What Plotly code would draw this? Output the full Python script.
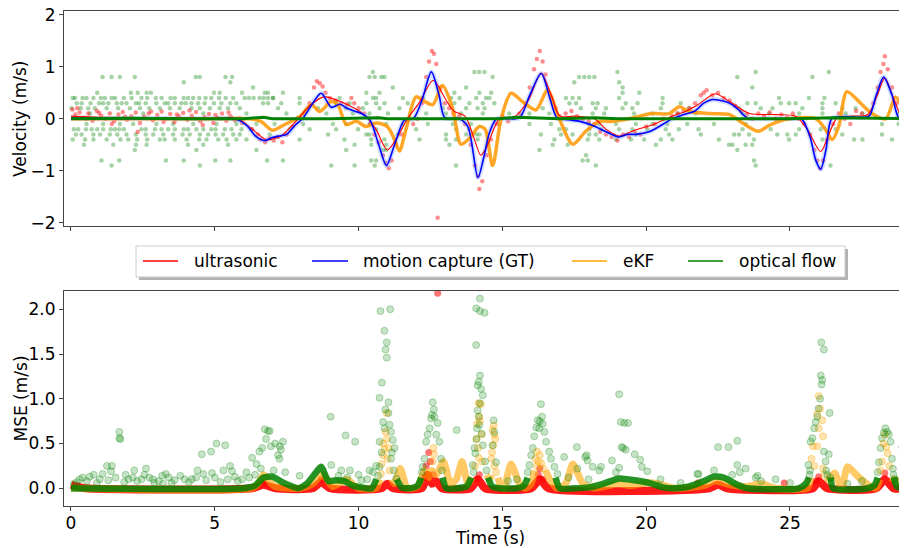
import plotly.graph_objects as go

FONT = "DejaVu Sans"

# ---------------- data ----------------
# motion capture (ground truth) velocity, knots (time s, m/s)
GT_T = [0, 0.5, 1, 2, 3, 4, 5, 5.7, 6.1, 6.45, 6.75, 7.0, 7.25, 7.5, 7.8, 8.05, 8.35, 8.7, 9.05, 9.35,
        9.6, 9.85, 10.1, 10.4, 10.7, 10.97, 11.25, 11.6, 11.9, 12.2, 12.53, 12.8, 13.0, 13.5, 13.8, 14.15,
        14.35, 14.55, 14.8, 15.2, 15.6, 15.95, 16.35, 16.65, 16.9, 17.3, 17.7, 18.1, 18.5, 18.8, 19.06,
        19.35, 19.65, 20.1, 20.6, 20.9, 21.3, 21.7, 22.0, 22.3, 22.6, 22.9, 23.2, 23.5, 24.0, 25.0, 25.4,
        25.7, 25.9, 26.07, 26.25, 26.45, 26.8, 27.4, 27.75, 28.0, 28.26, 28.55, 28.8, 29.1, 29.4]
GT_V = [0.02, 0.01, 0, 0, 0, 0, 0, 0, -0.12, -0.35, -0.42, -0.36, -0.33, -0.3, -0.12, 0.0, 0.25, 0.49, 0.22, 0.28,
        0.2, 0.15, 0.1, -0.03, -0.5, -0.9, -0.5, -0.02, 0.0, 0.35, 0.9, 0.45, 0.02, 0.0, -0.15, -1.13,
        -0.75, -0.27, 0.0, 0.0, 0.02, 0.45, 0.87, 0.4, 0.02, -0.02, -0.05, -0.12, -0.22, -0.3, -0.35,
        -0.3, -0.3, -0.25, -0.1, 0.0, 0.08, 0.15, 0.3, 0.37, 0.35, 0.3, 0.18, 0.02, 0.0, 0.0, 0.0,
        -0.35, -0.8, -0.97, -0.6, 0.0, 0.04, 0.03, 0.05, 0.45, 0.8, 0.45, 0.0, 0.0, 0.0]

# ultrasonic velocity (smoothed line)
US_T = [0, 1, 3, 5, 5.8, 6.3, 6.8, 7.3, 7.9, 8.3, 8.8, 9.5, 10.15, 10.6, 11.0, 11.35, 11.7, 12.1, 12.6,
        13.0, 13.3, 13.7, 14.0, 14.25, 14.45, 14.9, 15.4, 15.9, 16.35, 16.7, 17.0, 17.5, 18.2, 18.6, 19.06,
        19.6, 20.3, 20.9, 21.4, 21.8, 22.4, 22.9, 23.6, 24.5, 25.2, 25.6, 26.07, 26.35, 26.65, 27.2, 27.7,
        28.0, 28.3, 28.6, 28.9, 29.3]
US_V = [0.05, 0.03, 0.02, 0.01, 0.0, -0.2, -0.4, -0.33, 0.0, 0.25, 0.42, 0.3, 0.1, -0.2, -0.6, -0.35, 0.0,
        0.3, 0.74, 0.4, 0.15, 0.05, -0.35, -0.7, -0.55, 0.0, 0.03, 0.35, 0.88, 0.45, 0.05, 0.05, 0.0, -0.2,
        -0.33, -0.22, -0.1, 0.05, 0.15, 0.27, 0.48, 0.33, 0.1, 0.08, 0.05, -0.2, -0.63, -0.3, 0.02, 0.05,
        0.08, 0.4, 0.78, 0.4, 0.05, 0.25]

# ultrasonic raw samples (scatter)
US_DOT_T = [0.05, 0.15, 0.3, 0.45, 0.6, 0.75, 0.9, 1.05, 1.2, 1.35, 1.5, 1.65, 1.8, 1.95, 2.1, 2.25, 2.4,
            2.55, 2.7, 2.85, 3.0, 3.15, 3.3, 3.45, 3.6, 3.75, 3.9, 4.05, 4.2, 4.35, 4.5, 4.65, 4.8, 4.95,
            5.1, 5.25, 5.4, 5.55, 5.7, 5.85, 0.22, 0.52, 0.98, 1.42, 1.88, 2.32, 2.78, 3.22, 3.68, 4.12,
            4.58, 5.02, 5.48, 5.95,
            6.3, 6.5, 6.6, 6.75, 6.9, 7.05, 7.2, 7.35, 7.5, 7.7, 7.9, 8.1, 8.3, 8.45, 8.55, 8.65, 8.75,
            8.85, 9.0, 9.2, 9.4, 9.6, 9.75, 9.85, 10.0, 10.2, 10.4, 10.55, 10.7, 10.85, 10.95, 11.05,
            11.15, 11.3, 11.5, 11.7, 11.9, 12.05, 12.2, 12.35, 12.45, 12.55, 12.62, 12.7, 12.75, 12.85,
            13.0, 13.15, 13.3, 13.5, 13.7, 13.9, 14.05, 14.15, 14.2, 14.3, 14.45, 14.6, 14.8, 15.0, 15.2,
            15.4, 15.6, 15.8, 15.95, 16.1, 16.2, 16.3, 16.4, 16.5, 16.7, 16.85, 17.0, 17.2, 17.4, 17.6,
            17.8, 18.0, 18.2, 18.4, 18.6, 18.8, 19.0, 19.2, 19.4, 19.6, 19.8, 20.0, 20.3, 20.6, 20.9,
            21.1, 21.3, 21.5, 21.7, 21.9, 22.0, 22.1, 22.3, 22.5, 22.7, 22.9, 23.1, 23.3, 23.5, 23.7,
            23.9, 24.1, 24.3, 24.5, 24.7, 24.9, 25.1, 25.3, 25.5, 25.7, 25.85, 25.95, 26.05, 26.15,
            26.3, 26.5, 26.7, 26.9, 27.1, 27.3, 27.5, 27.7, 27.9, 28.05, 28.15, 28.25, 28.3, 28.4,
            28.55, 28.7, 28.85, 29.0]
US_DOT_V = [0.18, 0.08, 0.12, 0.02, 0.1, -0.04, 0.15, 0.06, 0.0, 0.1, -0.05, 0.08, 0.13, -0.02, 0.05,
            0.12, -0.08, 0.04, 0.1, -0.03, 0.07, 0.14, 0.0, 0.09, -0.06, 0.05, 0.11, -0.02, 0.06, 0.13,
            -0.05, 0.03, 0.09, -0.08, 0.02, 0.1, -0.04, 0.05, -0.03, 0.01, 0.2, 0.0, 0.11, -0.1, 0.04,
            -0.25, 0.14, -0.06, 0.08, 0.16, -0.12, 0.07, 0.12, -0.08,
            -0.2, -0.3, -0.4, -0.45, -0.38, -0.42, -0.35, -0.45, -0.3, -0.15, 0.02, 0.1, 0.3, 0.6, 0.72,
            0.68, 0.62, 0.5, 0.4, 0.35, 0.3, 0.28, 0.4, 0.3, 0.2, 0.1, -0.1, -0.3, -0.45, -0.7, -0.85,
            -0.95, -0.8, -0.5, -0.3, -0.05, -0.1, 0.0, 0.3, 0.8, 1.1, 1.3, 1.25, 1.05, -1.9, 0.6,
            0.3, 0.2, 0.1, 0.05, -0.1, -0.5, -0.9, -1.1, -1.35, -1.2, -0.7, -0.4, -0.1, 0.05, -0.05,
            0.02, 0.1, 0.3, 0.6, 0.95, 1.15, 1.3, 1.1, 0.85, 0.4, 0.2, 0.05, 0.1, 0.15, 0.05,
            0.0, -0.05, -0.1, -0.25, -0.3, -0.35, -0.42, -0.3, -0.35, -0.25, -0.3, -0.15, -0.1, 0.0, 0.05,
            0.1, 0.15, 0.2, 0.3, 0.45, 0.5, 0.55, 0.45, 0.5, 0.4, 0.35, 0.25, 0.15, 0.08, 0.0,
            0.1, 0.05, 0.12, 0.0, 0.08, 0.02, 0.1, 0.0, -0.1, -0.3, -0.6, -0.8, -0.95, -0.8,
            -0.4, -0.1, 0.1, 0.0, -0.1, 0.15, 0.1, 0.05, 0.3, 0.6, 0.9, 1.05, 1.2, 0.95,
            0.6, 0.3, 0.1, 0.2]

# extended Kalman filter velocity
EKF_T = [0, 5, 6.2, 6.6, 7.0, 7.4, 7.95, 8.36, 8.65, 9.05, 9.28, 9.57, 9.92, 10.27, 10.61, 11.0, 11.25,
         11.42, 11.65, 12.0, 12.3, 12.58, 12.92, 13.27, 13.56, 13.85, 14.2, 14.4, 14.66, 14.95, 15.3, 15.7,
         16.17, 16.57, 16.98, 17.45, 17.9, 18.37, 18.83, 19.4, 20.2, 20.8, 21.15, 21.5, 22.2, 22.9, 23.35,
         23.9, 24.3, 24.96, 25.9, 26.24, 26.47, 26.7, 26.98, 27.4, 27.85, 28.33, 28.67, 28.96, 29.3]
EKF_V = [0, 0, 0, -0.05, -0.22, -0.12, 0.04, 0.27, 0.14, 0.33, 0.27, -0.11, -0.05, -0.15, -0.08, -0.15,
         -0.4, -0.62, -0.2, 0.42, 0.33, 0.27, 0.64, 0.2, -0.49, -0.38, -0.15, -0.2, -0.9, -0.02, 0.49, 0.33,
         0.17, 0.55, 0.0, -0.49, -0.24, -0.05, -0.05, 0.0, 0.1, 0.1, 0.23, 0.14, 0.1, 0.08, -0.08,
         -0.24, -0.12, 0.0, 0.0, -0.21, -0.4, -0.14, 0.52, 0.33, 0.1, 0.0, 0.42, 0.17, -0.1]

# optical flow velocity: filtered line (near zero) and raw quantised samples
OF_T = [0, 2, 4, 6, 6.7, 7, 9, 10.7, 11, 12, 14.9, 15.5, 17, 18.2, 19, 21, 23, 25, 26.5, 29.4]
OF_V = [0.0, 0.01, 0.0, 0.0, 0.03, 0.0, 0.0, 0.02, 0.0, 0.0, 0.0, 0.03, 0.0, 0.02, 0.0, 0.0, 0.0, 0.0, 0.02, 0.0]

OF_DOT_LEVELS = [1.0, 0.9, 0.8, 0.7, 0.6, 0.5, 0.4, 0.3, 0.2, 0.1,
                 -0.1, -0.2, -0.3, -0.4, -0.5, -0.6, -0.7, -0.8, -0.9]
OF_DOT_TIMES = [
    [28.9],
    [10.5, 14.03, 14.2, 14.38, 19.0, 23.81, 26.35],
    [1.1, 1.41, 1.7, 2.22, 4.34, 4.48, 5.37, 5.6, 10.38, 10.56, 10.79, 10.9, 14.66, 17.67, 17.85, 18.02,
     18.2, 23.17, 25.78],
    [3.92, 5.54, 17.5, 19.06],
    [6.33, 11.19, 13.74, 19.18, 23.69],
    [0.91, 2.08, 2.32, 2.63, 2.78, 4.97, 5.17, 5.95, 6.74, 6.85, 7.37, 10.27, 10.73, 13.33, 14.2, 14.61,
     19.18, 19.76],
    [0.06, 0.14, 0.4, 0.54, 0.78, 1.04, 1.18, 1.41, 1.53, 1.84, 2.11, 2.45, 2.65, 2.95, 3.15, 3.46, 3.61,
     3.92, 4.07, 4.25, 4.46, 4.68, 4.88, 5.15, 5.38, 5.64, 6.04, 6.19, 6.35, 6.56, 6.7, 6.85, 7.02,
     7.03, 7.95, 9.34, 10.5, 10.61, 11.54, 12.24, 13.22, 13.51, 14.09, 14.43, 14.55, 17.21, 17.44,
     17.67, 19.06, 20.57, 24.62, 25.66, 26.2],
    [0.2, 0.37, 0.68, 0.98, 1.12, 1.3, 1.59, 1.76, 1.93, 2.26, 2.37, 2.6, 2.97, 3.26, 3.38, 3.61, 3.84,
     3.99, 4.19, 4.42, 4.65, 4.97, 5.23, 5.54, 5.75, 6.68, 6.85, 7.31, 7.95, 9.22, 9.69, 10.27, 10.61,
     10.9, 11.71, 13.33, 13.85, 14.32, 14.72, 17.33, 17.56, 18.14, 18.31, 19.29, 19.7, 20.57, 21.2,
     23.52, 23.81, 24.68, 24.97, 25.2, 26.13, 26.59],
    [0.02, 0.34, 0.6, 0.83, 1.24, 1.64, 2.05, 2.4, 2.72, 3.09, 3.44, 3.78, 4.19, 4.48, 4.83, 5.17, 5.46,
     5.87, 7.2, 8.59, 9.57, 10.15, 10.73, 11.42, 12.93, 13.74, 14.14, 14.38, 16.4, 17.73, 18.25, 18.6,
     19.18, 19.52, 20.51, 21.49, 23.23, 23.98, 24.39, 25.43, 26.13, 26.82, 27.28],
    [0.66, 2.51, 4.6, 6.1, 7.49, 8.88, 9.8, 10.38, 11.02, 12.35, 13.04, 13.56, 14.32, 15.24, 15.94, 16.63,
     18.14, 18.54, 19.58, 20.22, 21.09, 21.72, 23.35, 24.27, 25.32, 26.13, 26.94, 27.52, 28.78],
    [0.54, 1.12, 1.7, 2.16, 2.97, 3.55, 4.25, 5.06, 5.75, 6.45, 7.08, 8.07, 9.11, 9.57, 10.38, 10.96,
     11.54, 12.41, 13.28, 13.91, 14.9, 15.94, 16.69, 18.02, 18.37, 18.95, 19.64, 20.22, 20.74, 21.43,
     22.36, 23.46, 28.2, 28.78],
    [0.1, 0.25, 0.52, 0.72, 0.91, 1.12, 1.38, 1.53, 1.68, 1.84, 2.45, 2.6, 2.92, 3.15, 3.38, 3.61, 3.92,
     4.07, 4.36, 4.6, 4.88, 5.03, 5.35, 5.58, 5.93, 6.27, 7.6, 8.3, 9.22, 9.98, 10.61, 12.0, 13.39,
     13.85, 16.98, 17.21, 18.02, 18.43, 19.06, 19.52, 20.04, 20.68, 21.14, 21.82, 23.35, 24.33, 25.32,
     26.07, 26.59],
    [0.17, 0.37, 0.78, 1.01, 1.35, 1.61, 1.93, 2.26, 2.6, 2.86, 3.21, 3.55, 3.88, 4.13, 4.48, 4.77, 5.03,
     5.29, 5.64, 5.87, 6.91, 8.94, 10.27, 10.38, 11.37, 13.04, 13.74, 14.09, 14.2, 16.34, 17.04, 17.44,
     18.02, 18.25, 19.64, 20.8, 21.9, 23.06, 23.23, 23.58, 24.56, 24.91, 25.2, 26.82, 28.2],
    [0.06, 0.49, 0.78, 1.24, 1.72, 1.99, 2.3, 2.65, 3.09, 3.26, 3.61, 4.02, 4.46, 4.71, 5.12, 5.41, 5.75,
     6.1, 7.95, 9.51, 10.44, 10.9, 12.12, 13.04, 13.39, 14.14, 16.81, 17.97, 18.37, 18.95, 19.47, 19.93,
     20.51, 20.91, 22.53, 23.75, 24.97, 26.13, 27.23, 27.52, 28.55, 28.9],
    [0.45, 1.47, 2.26, 2.63, 4.07, 4.6, 5.46, 9.86, 10.44, 10.96, 13.16, 16.75, 17.27, 20.34, 22.88, 23.0,
     23.46, 23.69],
    [2.22, 4.36, 6.45, 9.57, 10.85, 10.96, 16.29, 23.17],
    [17.91],
    [1.06, 1.68, 3.3, 3.92, 5.02, 5.54, 6.82, 7.37, 10.44, 10.61, 17.79, 17.97, 23.75],
    [1.41, 4.48, 9.05, 9.86, 10.56, 13.39, 18.25, 23.81, 26.41],
]

# ---- squared errors (bottom panel), (time s, MSE); None marks a gap in the dense band ----
US_MSE = [(0, 0.04), (0.2, 0.02), (0.5, 0.0), (6.3, 0.0), (6.7, 0.04), (7.1, 0.0), (8.4, 0.0), (8.7, 0.07),
          (9.0, 0.0), (10.8, 0.0), (11.0, 0.05), (11.2, 0.0), (12.2, 0.0), (12.4, 0.15), (12.55, 0.05),
          (12.7, 0.08), (12.9, 0.0), (13.9, 0.0), (14.15, 0.1), (14.4, 0.0), (16.0, 0.0), (16.3, 0.1),
          (16.6, 0.0), (22.2, 0.0), (22.5, 0.04), (22.8, 0.0), (25.8, 0.0), (26.0, 0.08), (26.3, 0.0),
          (28.0, 0.0), (28.3, 0.1), (28.6, 0.0), (29.3, 0.0)]
US_MSE_DOTS = [(12.44, 0.4), (12.5, 0.3), (12.35, 0.25), (12.6, 0.15), (12.75, 2.18), (14.2, 0.15),
               (16.3, 0.22), (16.25, 0.15), (26.0, 0.13), (28.3, 0.17), (21.8, 0.06), (24.8, 0.06),
               (6.7, 0.06), (8.7, 0.1), (12.3, 0.12), (14.1, 0.1), (16.4, 0.1), (25.9, 0.08)]

EKF_MSE = [(0, 0), (6.3, 0), (6.5, 0.05), (6.7, 0.15), (6.9, 0.08), (7.1, 0.02), (8.0, 0), (8.4, 0.05),
           (8.75, 0.15), (9.1, 0.02), (9.35, 0.06), (9.6, 0.1), (9.85, 0.03), (10.0, 0.0), (10.6, 0.0),
           (10.75, 0.1), (None, None), (11.15, 0.1), (11.25, 0.05), (11.45, 0.22), (11.7, 0.0),
           (12.05, 0.02), (12.3, 0.2), (12.45, 0.12), (12.55, 0.2), (12.7, 0.15), (12.95, 0.3),
           (13.2, 0.05), (13.4, 0.1), (13.6, 0.3), (13.8, 0.05), (13.95, 0.12), (None, None),
           (14.45, 0.15), (14.55, 0.1), (14.62, 0.15), (None, None), (14.85, 0.12), (14.95, 0.02),
           (15.05, 0.0), (15.3, 0.27), (15.6, 0.05), (15.8, 0.0), (16.0, 0.05), (16.12, 0.2),
           (None, None), (16.5, 0.2), (16.65, 0.1), (16.9, 0.0), (17.2, 0.05), (17.45, 0.27),
           (17.8, 0.05), (18.2, 0.0), (19.0, 0.05), (19.5, 0.03), (20.0, 0.06), (20.4, 0.05), (21.0, 0.0),
           (22.0, 0.03), (22.4, 0.08), (22.9, 0.04), (23.5, 0.02), (24.0, 0.05), (24.5, 0.0), (25.6, 0.0),
           (25.72, 0.12), (None, None), (26.25, 0.12), (26.35, 0.1), (26.55, 0.17), (26.8, 0.0),
           (27.0, 0.24), (27.4, 0.12), (27.8, 0.02), (28.0, 0.0), (28.12, 0.1), (None, None),
           (28.5, 0.12), (28.6, 0.1), (28.8, 0.08), (29.1, 0.0)]
EKF_MSE_DOTS = [(10.98, 0.84), (10.94, 0.63), (10.98, 0.55), (10.85, 0.5), (10.9, 0.44), (10.85, 0.37),
                (10.8, 0.27), (11.05, 0.45), (11.0, 0.33), (11.08, 0.2), (10.78, 0.16),
                (14.17, 0.95), (14.2, 0.8), (14.22, 0.75), (14.12, 0.72), (14.15, 0.45), (14.18, 0.34),
                (14.25, 0.94), (14.05, 0.25), (14.3, 0.3), (14.1, 0.55), (14.28, 0.6),
                (14.7, 0.7), (14.66, 0.65), (14.72, 0.6), (14.75, 0.55), (14.68, 0.48), (14.64, 0.4),
                (14.62, 0.33), (14.72, 0.25), (14.78, 0.18),
                (16.2, 0.41), (16.3, 0.37), (16.15, 0.33), (16.25, 0.3), (16.2, 0.25), (16.35, 0.28),
                (16.42, 0.22),
                (12.6, 0.45), (12.62, 0.38), (12.58, 0.3),
                (26.0, 1.03), (26.05, 0.89), (25.95, 0.83), (26.12, 0.76), (26.0, 0.67), (26.15, 0.58),
                (25.95, 0.47), (25.8, 0.47), (25.75, 0.33), (26.15, 0.22), (25.85, 0.25), (26.2, 0.15),
                (28.2, 0.3), (28.25, 0.5), (28.3, 0.6), (28.35, 0.46), (28.4, 0.39), (28.45, 0.25),
                (28.15, 0.2)]

OF_MSE = [(0, 0), (6.0, 0), (6.4, 0.03), (6.7, 0.12), (7.0, 0.13), (7.4, 0.06), (7.9, 0.0), (8.2, 0.05),
          (8.5, 0.17), (8.7, 0.24), (8.95, 0.08), (9.2, 0.09), (9.5, 0.08), (9.8, 0.03), (10.1, 0.01),
          (10.45, 0.0), (10.62, 0.1), (None, None), (11.33, 0.1), (11.5, 0.01), (11.8, 0.0),
          (12.05, 0.03), (12.18, 0.12), (None, None), (12.92, 0.12), (13.05, 0.0), (13.4, 0.0),
          (13.75, 0.02), (13.92, 0.12), (None, None), (14.5, 0.12), (14.65, 0.02), (14.9, 0.0),
          (15.5, 0.0), (15.75, 0.03), (15.88, 0.12), (None, None), (16.85, 0.12), (17.0, 0.0),
          (17.5, 0.0), (18.0, 0.01), (18.5, 0.05), (19.06, 0.11), (19.6, 0.09), (20.1, 0.06),
          (20.6, 0.01), (21.0, 0.0), (21.5, 0.02), (22.0, 0.08), (22.35, 0.13), (22.7, 0.12), (23.1, 0.05),
          (23.5, 0.0), (25.3, 0.0), (25.55, 0.05), (25.66, 0.12), (None, None), (26.42, 0.12),
          (26.5, 0.0), (27.7, 0.0), (27.95, 0.04), (28.05, 0.12), (None, None), (28.62, 0.12),
          (28.72, 0.02), (29.0, 0.0), (29.3, 0.0)]
OF_MSE_DOTS = [(0.41, 0.12), (0.79, 0.15), (1.25, 0.25), (1.42, 0.25), (1.1, 0.16), (1.39, 0.19),
               (1.68, 0.63), (1.68, 0.56), (1.72, 0.55), (2.61, 0.22), (2.72, 0.12), (3.17, 0.14),
               (3.3, 0.16), (3.8, 0.14), (4.55, 0.38), (4.87, 0.41), (5.06, 0.5), (5.36, 0.48),
               (4.6, 0.16), (4.9, 0.17), (5.53, 0.25), (5.6, 0.19), (6.1, 0.18), (6.3, 0.34), (6.45, 0.27),
               (6.55, 0.41), (6.65, 0.45), (6.74, 0.66), (6.85, 0.64), (6.78, 0.55), (6.95, 0.47),
               (7.1, 0.5), (7.3, 0.43), (7.37, 0.52), (7.25, 0.33), (7.05, 0.2), (7.45, 0.18), (2.0, 0.1),
               (2.3, 0.08), (3.6, 0.09), (0.2, 0.07), (0.9, 0.06), (2.9, 0.06), (4.2, 0.1), (5.8, 0.08),
               (0.3, 0.1), (0.55, 0.08), (0.65, 0.13), (1.0, 0.1), (1.3, 0.09), (1.55, 0.12), (1.85, 0.07),
               (2.15, 0.12), (2.45, 0.1), (2.55, 0.15), (2.85, 0.1), (3.05, 0.08), (3.4, 0.12), (3.5, 0.06),
               (3.95, 0.1), (4.1, 0.07), (4.35, 0.12), (4.7, 0.09), (5.0, 0.12), (5.2, 0.07), (5.45, 0.1),
               (5.7, 0.13), (5.95, 0.1), (6.2, 0.12), (6.4, 0.15), (3.2, 0.05), (1.9, 0.15), (0.1, 0.05),
               (2.2, 0.2), (4.4, 0.2), (5.3, 0.2), (6.6, 0.22), (9.3, 0.14), (9.6, 0.12), (10.0, 0.15),
               (10.3, 0.1), (15.2, 0.08), (15.5, 0.1), (17.3, 0.12), (18.0, 0.1), (20.5, 0.1), (21.2, 0.06),
               (24.0, 0.08), (24.5, 0.1), (25.0, 0.06), (27.0, 0.05), (27.5, 0.08),
               (6.91, 0.64), (7.26, 0.47), (7.2, 0.37), (9.03, 0.8), (9.55, 0.59), (9.88, 0.52),
               (7.95, 0.14), (9.05, 0.26), (9.4, 0.2), (9.7, 0.2), (10.38, 0.2), (10.1, 0.09),
               (10.76, 1.98), (11.1, 2.0), (10.9, 1.76), (10.98, 1.63), (10.94, 1.55), (10.98, 1.46),
               (10.81, 1.18), (10.73, 1.01), (11.04, 0.96), (10.93, 0.88), (11.04, 0.84), (10.85, 0.74),
               (11.08, 0.71), (10.9, 0.67), (10.73, 0.52), (11.13, 0.63), (11.19, 0.54), (11.25, 0.45),
               (11.13, 0.33), (10.73, 0.24), (10.61, 0.25), (10.5, 0.18), (11.31, 0.11), (10.68, 0.14),
               (11.22, 0.2), (10.8, 0.4), (11.16, 0.4),
               (12.58, 0.96), (12.55, 0.82), (12.64, 0.8), (12.47, 0.67), (12.75, 0.73), (12.35, 0.52),
               (12.81, 0.52), (12.29, 0.33), (12.87, 0.33), (13.41, 0.65), (12.23, 0.24), (12.2, 0.18),
               (12.4, 0.6), (12.7, 0.6), (12.9, 0.2), (12.52, 0.78), (12.62, 0.88),
               (14.22, 2.12), (14.09, 2.01), (14.22, 1.98), (14.38, 1.96), (14.09, 1.6), (14.22, 1.26),
               (14.18, 1.19), (14.14, 1.15), (14.26, 1.11), (14.32, 1.04), (14.22, 0.95), (14.14, 0.87),
               (14.18, 0.8), (14.2, 0.71), (14.12, 0.67), (14.28, 0.61), (14.06, 0.39), (14.03, 0.45),
               (14.32, 0.48), (13.97, 0.26), (14.0, 0.18), (14.4, 0.3), (14.45, 0.2), (14.1, 0.55),
               (14.7, 0.76), (14.72, 0.63), (14.66, 0.48), (14.78, 0.29),
               (16.34, 0.94), (16.38, 0.8), (16.23, 0.76), (16.4, 0.72), (16.28, 0.67), (16.46, 0.63),
               (16.11, 0.58), (16.52, 0.52), (16.06, 0.45), (16.63, 0.41), (16.0, 0.37), (16.69, 0.33),
               (15.94, 0.26), (16.81, 0.24), (15.88, 0.18), (16.92, 0.16), (16.3, 0.75), (16.18, 0.68),
               (17.59, 0.46), (17.93, 0.37), (17.96, 0.31), (17.88, 0.35), (17.15, 0.35), (17.61, 0.22),
               (18.14, 0.24), (18.43, 0.24), (18.37, 0.2), (18.81, 0.31), (19.06, 1.05), (19.12, 0.74),
               (19.24, 0.73), (19.37, 0.73), (19.15, 0.46), (19.2, 0.45), (19.29, 0.43), (19.6, 0.38),
               (19.79, 0.32), (19.85, 0.24), (20.04, 0.19), (21.78, 0.16), (19.06, 0.23), (18.95, 0.18),
               (22.5, 0.46), (22.86, 0.46), (23.17, 0.53), (23.17, 0.26), (23.25, 0.18), (23.46, 0.22),
               (22.99, 0.15), (23.81, 0.12), (23.87, 0.14), (22.36, 0.2), (21.82, 0.16),
               (26.09, 1.63), (26.18, 1.55), (26.07, 1.26), (26.12, 1.21), (26.1, 1.16), (26.38, 0.84),
               (25.99, 0.89), (25.89, 0.74), (25.84, 0.67), (25.78, 0.56), (25.72, 0.52), (26.18, 0.41),
               (26.35, 0.38), (26.24, 0.3), (26.26, 0.2), (25.64, 0.26), (25.7, 0.2), (25.68, 0.15),
               (26.3, 0.15), (26.4, 0.12), (26.05, 1.0), (25.95, 0.8),
               (28.32, 0.67), (28.38, 0.63), (28.2, 0.56), (28.5, 0.52), (28.15, 0.45), (28.55, 0.33),
               (28.09, 0.29), (28.58, 0.22), (28.9, 0.46), (28.05, 0.18), (28.6, 0.15), (28.65, 0.1),
               (28.26, 0.62), (28.44, 0.6)]

LEGEND_NAMES = ["ultrasonic", "motion capture (GT)", "eKF", "optical flow"]
LEGEND_COLORS = ["#ff0000", "#0000ff", "#ffa500", "#008000"]

X_TICKS = [0, 5, 10, 15, 20, 25]
VEL_TICKS = [-2, -1, 0, 1, 2]
VEL_TICK_TEXT = ["\u22122", "\u22121", "0", "1", "2"]
MSE_TICKS = [0.0, 0.5, 1.0, 1.5, 2.0]
MSE_TICK_TEXT = ["0.0", "0.5", "1.0", "1.5", "2.0"]


def unzip(pairs):
    return [p[0] for p in pairs], [p[1] for p in pairs]


of_dot_t, of_dot_v = [], []
for lvl, times in zip(OF_DOT_LEVELS, OF_DOT_TIMES):
    of_dot_t += times
    of_dot_v += [lvl] * len(times)

# ---------------- figure ----------------
# The page shows the figure offset by the body margin (8 px); margins are chosen so the
# plot areas land on the intended screen pixels (x 64..907, y 11..506).
W, H = 907, 548
PAGE_OFF = 8
SX0, SX1, SY0, SY1 = 64, 907, 11, 506          # plot-area box in screen pixels
ML = SX0 - PAGE_OFF
MR = W - (SX1 - PAGE_OFF)
MT = SY0 - PAGE_OFF
MB = H - (SY1 - PAGE_OFF)


def fx(px):
    return (px - SX0) / (SX1 - SX0)


def fy(py):
    return (SY1 - py) / (SY1 - SY0)


fig = go.Figure()

# top panel: velocities
fig.add_trace(go.Scatter(x=of_dot_t, y=of_dot_v, mode="markers", xaxis="x", yaxis="y",
                         marker=dict(size=4.5, color="rgba(0,128,0,0.35)", line=dict(width=0))))
fig.add_trace(go.Scatter(x=US_DOT_T, y=US_DOT_V, mode="markers", xaxis="x", yaxis="y",
                         marker=dict(size=4.5, color="rgba(255,0,0,0.45)", line=dict(width=0))))
fig.add_trace(go.Scatter(x=GT_T, y=GT_V, mode="lines", xaxis="x", yaxis="y", line_shape="spline",
                         line=dict(color="rgba(120,160,255,0.35)", width=5, smoothing=0.8)))
fig.add_trace(go.Scatter(x=EKF_T, y=EKF_V, mode="lines", xaxis="x", yaxis="y", line_shape="spline",
                         line=dict(color="rgba(255,150,0,0.85)", width=3.5, smoothing=0.8)))
fig.add_trace(go.Scatter(x=US_T, y=US_V, mode="lines", xaxis="x", yaxis="y", line_shape="spline",
                         line=dict(color="#ff0000", width=1.1, smoothing=0.8)))
fig.add_trace(go.Scatter(x=GT_T, y=GT_V, mode="lines", xaxis="x", yaxis="y", line_shape="spline",
                         line=dict(color="#0000ff", width=1.6, smoothing=0.8)))
fig.add_trace(go.Scatter(x=OF_T, y=OF_V, mode="lines", xaxis="x", yaxis="y",
                         line=dict(color="#008000", width=3)))

# bottom panel: squared errors
t, v = unzip(US_MSE)
fig.add_trace(go.Scatter(x=t, y=v, mode="lines", xaxis="x2", yaxis="y2", line_shape="spline",
                         line=dict(color="rgba(255,0,0,0.9)", width=8, smoothing=0.6)))
t, v = unzip(US_MSE_DOTS)
fig.add_trace(go.Scatter(x=t, y=v, mode="markers", xaxis="x2", yaxis="y2",
                         marker=dict(size=7, color="rgba(255,0,0,0.55)", line=dict(width=0))))
t, v = unzip(EKF_MSE)
fig.add_trace(go.Scatter(x=t, y=v, mode="lines", xaxis="x2", yaxis="y2", line_shape="spline",
                         line=dict(color="rgba(255,165,0,0.6)", width=7, smoothing=0.6)))
t, v = unzip(EKF_MSE_DOTS)
fig.add_trace(go.Scatter(x=t, y=v, mode="markers", xaxis="x2", yaxis="y2",
                         marker=dict(size=7, color="rgba(255,165,0,0.3)",
                                     line=dict(width=1, color="rgba(255,165,0,0.35)"))))
t, v = unzip(OF_MSE)
fig.add_trace(go.Scatter(x=t, y=v, mode="lines", xaxis="x2", yaxis="y2", line_shape="spline",
                         line=dict(color="rgba(0,128,0,0.85)", width=6.5, smoothing=0.6)))
t, v = unzip(OF_MSE_DOTS)
fig.add_trace(go.Scatter(x=t, y=v, mode="markers", xaxis="x2", yaxis="y2",
                         marker=dict(size=7, color="rgba(0,128,0,0.22)",
                                     line=dict(width=1, color="rgba(0,128,0,0.28)"))))

axis_common = dict(showgrid=False, zeroline=False, showline=True, linecolor="#444444", linewidth=1,
                   ticks="outside", ticklen=4, tickcolor="#444444", ticklabeloverflow="allow",
                   tickfont=dict(family=FONT, size=17, color="#000000"))

X_RANGE = [-0.243, 29.07]
fig.update_layout(
    width=W, height=H,
    margin=dict(l=ML, r=MR, t=MT, b=MB, autoexpand=False),
    paper_bgcolor="white", plot_bgcolor="white",
    showlegend=False,
    font=dict(family=FONT, size=17, color="#000000"),
    xaxis=dict(axis_common, domain=[0, 1], anchor="y", range=X_RANGE, tickvals=X_TICKS,
               showticklabels=False, mirror=True),
    yaxis=dict(axis_common, domain=[fy(226), 1], anchor="x", range=[-2.06, 2.07],
               tickvals=VEL_TICKS, ticktext=VEL_TICK_TEXT),
    xaxis2=dict(axis_common, domain=[0, 1], anchor="y2", range=X_RANGE, tickvals=X_TICKS, mirror=True,
                ticklabelstandoff=-2),
    yaxis2=dict(axis_common, domain=[0, fy(291)], anchor="x2", range=[-0.198, 2.204],
                tickvals=MSE_TICKS, ticktext=MSE_TICK_TEXT),
)

# axis titles
annotations = [
    dict(text="Velocity (m/s)", x=fx(20), y=fy(119), textangle=-90),
    dict(text="MSE (m/s)", x=fx(20), y=fy(398.5), textangle=-90),
    dict(text="Time (s)", x=fx(489.5), y=fy(538)),
]
for a in annotations:
    a.update(xref="paper", yref="paper", showarrow=False, xanchor="center", yanchor="middle",
             font=dict(family=FONT, size=17, color="#000000"))

# legend (drawn between the panels)
shapes = [
    dict(type="rect", x0=fx(139), x1=fx(848), y0=fy(249), y1=fy(280),
         fillcolor="rgba(0,0,0,0.3)", line=dict(width=0)),
    dict(type="rect", x0=fx(136), x1=fx(845), y0=fy(246), y1=fy(277),
         fillcolor="white", line=dict(color="#cccccc", width=1)),
]
line_x = [(143, 178), (312, 348), (572, 607), (688, 723)]
text_x = [192, 361, 621, 737]
for name, col, (x0, x1), tx in zip(LEGEND_NAMES, LEGEND_COLORS, line_x, text_x):
    shapes.append(dict(type="line", x0=fx(x0), x1=fx(x1), y0=fy(261), y1=fy(261),
                       line=dict(color=col, width=1.3)))
    annotations.append(dict(text=name, x=fx(tx), y=fy(260.5), xref="paper", yref="paper",
                            showarrow=False, xanchor="left", yanchor="middle",
                            font=dict(family=FONT, size=17, color="#000000")))
for s in shapes:
    s.update(xref="paper", yref="paper")

fig.update_layout(annotations=annotations, shapes=shapes)

fig.write_html("out.html")
